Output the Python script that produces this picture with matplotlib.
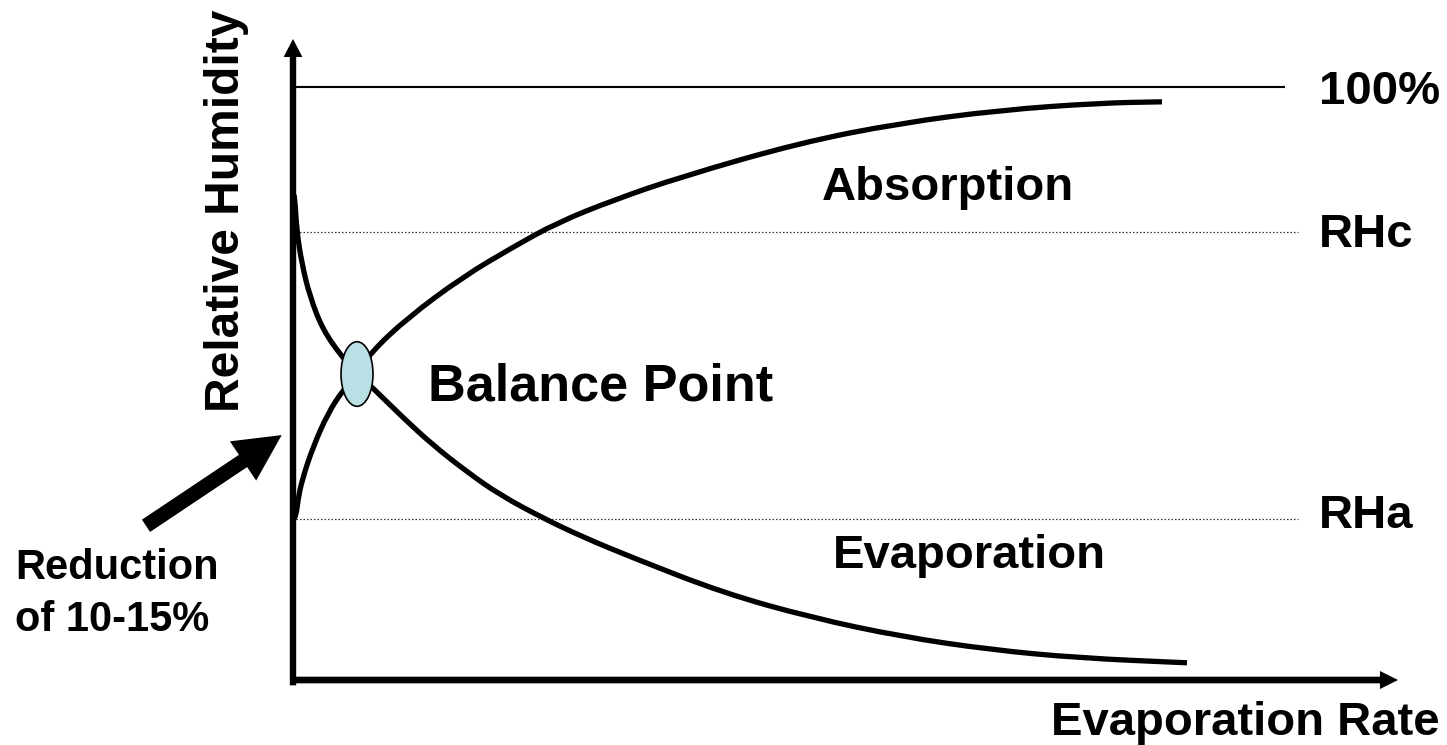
import matplotlib
matplotlib.use('Agg')
import matplotlib.pyplot as plt
from matplotlib.patches import Ellipse, PathPatch
from matplotlib.path import Path

plt.rcParams['font.family'] = ['Liberation Sans', 'DejaVu Sans']
plt.rcParams['font.weight'] = 'bold'

# x = evaporation rate (arbitrary units), y = relative humidity (%)
absorb_x = [0.1, 0.3, 0.5, 0.9, 2.0, 3.5, 5.0, 6.4, 7.7, 11.4, 17.0, 22.0, 26.4,
            32.0, 38.7, 50.7, 60.7, 70.7, 80.7, 86.9]
absorb_y = [27.2, 27.6, 30.4, 33.7, 39.3, 45.0, 48.9, 51.4, 55.1, 61.0, 68.0, 73.0, 77.1,
            80.9, 84.8, 90.6, 93.9, 96.1, 97.3, 97.5]

evap_x = [0.1, 0.2, 0.37, 0.87, 1.7, 3.0, 4.9, 6.4, 7.9, 10.9, 14.0, 17.4, 20.7, 25.0,
          29.0, 34.0, 43.0, 51.9, 60.9, 69.8, 78.7, 89.4]
evap_y = [81.8, 80.9, 75.9, 70.3, 64.6, 59.0, 54.5, 51.6, 49.4, 44.4, 39.6, 35.1, 31.2,
          27.3, 24.1, 20.6, 14.7, 10.5, 7.3, 5.1, 3.7, 2.9]

rh_full = 100.0
rh_c = 75.5
rh_a = 27.15
balance_x, balance_y = 6.4, 51.6

level_labels = ['100%', 'RHc', 'RHa']
level_label_y = [97.1, 73.0, 25.6]


def smooth_path(xs, ys):
    # quadratic bezier through midpoints, so the stroke has no visible corners
    verts = [(xs[0], ys[0])]
    codes = [Path.MOVETO]
    for i in range(1, len(xs) - 1):
        mid = ((xs[i] + xs[i + 1]) / 2, (ys[i] + ys[i + 1]) / 2)
        verts += [(xs[i], ys[i]), mid]
        codes += [Path.CURVE3, Path.CURVE3]
    verts.append((xs[-1], ys[-1]))
    codes.append(Path.LINETO)
    return Path(verts, codes)


fig = plt.figure(figsize=(14.47, 7.45), dpi=100)
ax = fig.add_axes([0, 0, 1, 1])
ax.set_xlim(-29.3, 115.4)
ax.set_ylim(-10.96, 114.67)
ax.axis('off')

# reference levels
ax.plot([0.2, 99.2], [rh_full, rh_full], color='k', lw=1.5, solid_capstyle='butt')
for lvl in (rh_c, rh_a):
    ax.plot([0.3, 100.5], [lvl, lvl], color='#333333', lw=0.9,
            linestyle=(0, (1.2, 1.6)))

# axes with arrowheads
ax.annotate('', xy=(0, 108.1), xytext=(0, -0.9),
            arrowprops=dict(arrowstyle='simple,head_length=13,head_width=13.5,tail_width=4.6',
                            mutation_scale=1, color='k', lw=0, shrinkA=0, shrinkB=0))
ax.annotate('', xy=(110.5, 0), xytext=(-0.3, 0),
            arrowprops=dict(arrowstyle='simple,head_length=13,head_width=13,tail_width=4.8',
                            mutation_scale=1, color='k', lw=0, shrinkA=0, shrinkB=0))

# curves
for xs, ys in ((absorb_x, absorb_y), (evap_x, evap_y)):
    ax.add_patch(PathPatch(smooth_path(xs, ys), fill=False, edgecolor='k', lw=3.8,
                           capstyle='butt', joinstyle='round', zorder=2))

ax.add_patch(Ellipse((balance_x, balance_y), 3.2, 10.9, facecolor='#b9e0e4',
                     edgecolor='k', lw=1.2, zorder=3))

# reduction arrow
ax.annotate('', xy=(-1.13, 41.3), xytext=(-14.7, 26.0),
            arrowprops=dict(arrowstyle='simple,head_length=33.5,head_width=34,tail_width=10.6',
                            mutation_scale=1, color='k', lw=0, shrinkA=0, shrinkB=0))

# labels
ax.text(13.5, 47.2, 'Balance Point', fontsize=37.6, fontweight='bold', va='baseline')
ax.text(52.9, 80.9, 'Absorption', fontsize=34, fontweight='bold', va='baseline')
ax.text(54.0, 18.9, 'Evaporation', fontsize=34, fontweight='bold', va='baseline')
for lvl_y, lbl in zip(level_label_y, level_labels):
    ax.text(102.6, lvl_y, lbl, fontsize=34, fontweight='bold', va='baseline')
ax.text(114.7, -9.3, 'Evaporation Rate', fontsize=34, fontweight='bold',
        ha='right', va='baseline')
ax.text(-5.4, 45.2, 'Relative Humidity', fontsize=34.5, fontweight='bold',
        rotation=90, rotation_mode='anchor', ha='left', va='baseline')
ax.text(-27.8, 17.0, 'Reduction', fontsize=30, fontweight='bold', va='baseline')
ax.text(-27.8, 8.3, 'of 10-15%', fontsize=30, fontweight='bold', va='baseline')

fig.savefig('out.png', dpi=100)
